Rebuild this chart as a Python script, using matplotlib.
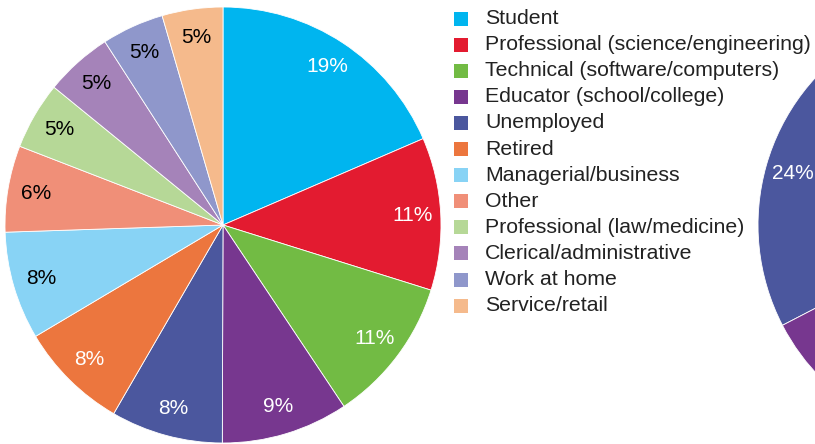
import matplotlib
matplotlib.use("Agg")
import matplotlib.pyplot as plt
from matplotlib.patches import Rectangle

categories = ["Student", "Professional (science/engineering)", "Technical (software/computers)",
              "Educator (school/college)", "Unemployed", "Retired", "Managerial/business",
              "Other", "Professional (law/medicine)", "Clerical/administrative",
              "Work at home", "Service/retail"]
values = [18.5, 11.3, 10.8, 9.4, 8.3, 8.1, 8.0, 6.4, 5.0, 5.0, 4.6, 4.5]
pct_labels = ["19%", "11%", "11%", "9%", "8%", "8%", "8%", "6%", "5%", "5%", "5%", "5%"]
colors = ["#00b5ef", "#e31b30", "#72bb44", "#77378f", "#4b579e", "#ec763e", "#88d3f5",
          "#f08f78", "#b6d897", "#a583b9", "#8f97cb", "#f5ba8c"]
label_colors = ["white"] * 6 + ["black"] * 6

# second (cut-off) pie on the right: only two wedges visible
values2 = [24, 10, 66]
colors2 = ["#4b579e", "#77378f", "#ffffff"]
labels2 = ["24%", "", ""]

plt.rcParams['font.family'] = ['Liberation Sans', 'DejaVu Sans']
W, H = 815, 444
fig = plt.figure(figsize=(W / 100, H / 100), dpi=100)
ax = fig.add_axes([0, 0, 1, 1])

wedges, texts = ax.pie(values, colors=colors, startangle=90, counterclock=False,
                       center=(223, H - 225), radius=218,
                       labels=pct_labels, labeldistance=0.87,
                       wedgeprops=dict(edgecolor="white", linewidth=0.6),
                       textprops=dict(fontsize=15, ha="center", va="center"))
for t, c in zip(texts, label_colors):
    t.set_color(c)

w2, t2 = ax.pie(values2, colors=colors2, startangle=121, counterclock=True,
                center=(976, H - 225), radius=218, labels=labels2, labeldistance=0.875,
                wedgeprops=dict(edgecolor="white", linewidth=0.6),
                textprops=dict(fontsize=15, ha="center", va="center", color="white"))

# legend
x0, y0, dy = 454, 18.5, 26.1
for i, (cat, col) in enumerate(zip(categories, colors)):
    y = H - (y0 + i * dy)
    ax.add_patch(Rectangle((x0, y - 7), 14, 14, facecolor=col, edgecolor="none"))
    ax.text(485, y, cat, fontsize=15.3, color="#222222", va="center", ha="left")

ax.set_xlim(0, W)
ax.set_ylim(0, H)
ax.set_aspect("equal")
ax.axis("off")
fig.savefig("out.png", dpi=100)
